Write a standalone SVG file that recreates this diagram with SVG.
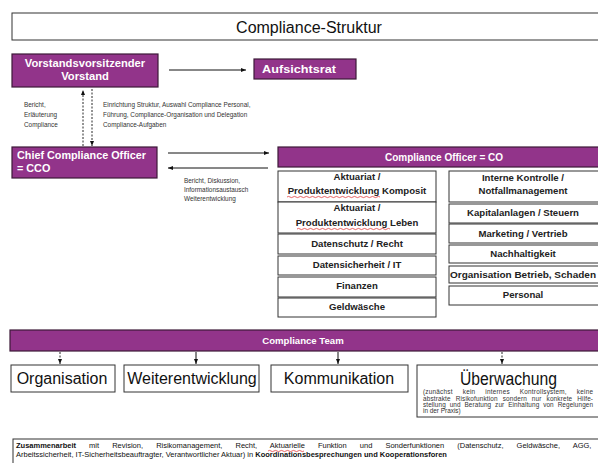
<svg xmlns="http://www.w3.org/2000/svg" width="598" height="463" viewBox="0 0 598 463">
<defs>
<marker id="ah" viewBox="0 0 10 10" refX="10" refY="5" markerWidth="5" markerHeight="5" orient="auto" markerUnits="userSpaceOnUse">
<path d="M0,1 L10,5 L0,9 z" fill="#111"/>
</marker>
<style>
text{font-family:"Liberation Sans",Arial,sans-serif;fill:#111}
.p{fill:#92348a;stroke:#3c1a38;stroke-width:1.2}
.pw{fill:#fff;font-weight:bold}
.b{fill:#fff;stroke:#333;stroke-width:1}
.cb{font-size:9.6px;font-weight:bold;text-anchor:middle;fill:#222}
.lab{font-size:6.4px;fill:#333}
.big{font-size:16px;text-anchor:middle}
.ln{stroke:#111;stroke-width:1;fill:none}
.dl{stroke:#111;stroke-width:0.9;fill:none;stroke-dasharray:2 1.5}
.sq{stroke:#d22;stroke-width:0.7;fill:none}
</style>
</defs>
<rect width="598" height="463" fill="#fff"/>

<g id="title">
<rect x="12" y="13" width="590" height="27" class="b"/>
<text x="309" y="33" font-size="16" text-anchor="middle">Compliance-Struktur</text>
</g>

<g id="vorstand">
<rect x="12" y="54" width="146" height="33" class="p"/>
<text x="85" y="67" class="pw" font-size="11.2" text-anchor="middle">Vorstandsvorsitzender</text>
<text x="85" y="80" class="pw" font-size="11.2" text-anchor="middle">Vorstand</text>
</g>

<g id="aufsichtsrat">
<rect x="254" y="59" width="102" height="20" class="p"/>
<text x="299" y="73" class="pw" font-size="11.5" text-anchor="middle" textLength="74" lengthAdjust="spacingAndGlyphs">Aufsichtsrat</text>
</g>

<g id="cco">
<rect x="12" y="147" width="145" height="31" class="p"/>
<text x="17" y="159" class="pw" font-size="10.8">Chief Compliance Officer</text>
<text x="17" y="172" class="pw" font-size="10.8">= CCO</text>
</g>

<g id="co">
<rect x="278" y="147" width="322" height="20" class="p"/>
<text x="444" y="161" class="pw" font-size="10" text-anchor="middle">Compliance Officer = CO</text>
</g>

<g id="co-left">
<g id="aktuariat-komposit"><rect x="278" y="171" width="158" height="31" class="b"/>
<text x="357" y="180" class="cb">Aktuariat /</text>
<text x="357" y="194" class="cb">Produktentwicklung Komposit</text>
<path class="sq" d="M287,197 q1.5,-1.2 3,0 t3,0 t3,0 t3,0 t3,0 t3,0 t3,0 t3,0 t3,0 t3,0 t3,0 t3,0 t3,0 t3,0 t3,0 t3,0 t3,0 t3,0 t3,0 t3,0 t3,0 t3,0 t3,0 t3,0 t3,0 t3,0 t3,0 t3,0 t3,0 t3,0 t3,0"/></g>
<g id="aktuariat-leben"><rect x="278" y="202" width="158" height="31" class="b"/>
<text x="357" y="211" class="cb">Aktuariat /</text>
<text x="357" y="226" class="cb">Produktentwicklung Leben</text>
<path class="sq" d="M297,229 q1.5,-1.2 3,0 t3,0 t3,0 t3,0 t3,0 t3,0 t3,0 t3,0 t3,0 t3,0 t3,0 t3,0 t3,0 t3,0 t3,0 t3,0 t3,0 t3,0 t3,0 t3,0 t3,0 t3,0 t3,0 t3,0 t3,0 t3,0 t3,0 t3,0 t3,0 t3,0 t3,0"/></g>
<g id="datenschutz"><rect x="278" y="234" width="158" height="20" class="b"/>
<text x="357" y="247" class="cb">Datenschutz / Recht</text></g>
<g id="datensicherheit"><rect x="278" y="256" width="158" height="19" class="b"/>
<text x="357" y="268" class="cb">Datensicherheit / IT</text></g>
<g id="finanzen"><rect x="278" y="277" width="158" height="20" class="b"/>
<text x="357" y="289" class="cb">Finanzen</text></g>
<g id="geldwaesche"><rect x="278" y="298" width="158" height="19" class="b"/>
<text x="357" y="310" class="cb">Geldwäsche</text></g>
</g>

<g id="co-right">
<g id="interne-kontrolle"><rect x="449" y="171" width="151" height="31" class="b"/>
<text x="523" y="181" class="cb">Interne Kontrolle /</text>
<text x="523" y="194" class="cb">Notfallmanagement</text></g>
<g id="kapitalanlagen"><rect x="449" y="204" width="151" height="19" class="b"/>
<text x="523" y="216" class="cb">Kapitalanlagen / Steuern</text></g>
<g id="marketing"><rect x="449" y="224" width="151" height="19" class="b"/>
<text x="523" y="237" class="cb">Marketing / Vertrieb</text></g>
<g id="nachhaltigkeit"><rect x="449" y="245" width="151" height="18" class="b"/>
<text x="523" y="257" class="cb">Nachhaltigkeit</text></g>
<g id="organisation-betrieb"><rect x="449" y="266" width="151" height="17" class="b"/>
<text x="523" y="278" class="cb" textLength="146" lengthAdjust="spacingAndGlyphs">Organisation Betrieb, Schaden</text></g>
<g id="personal"><rect x="449" y="286" width="151" height="19" class="b"/>
<text x="523" y="298" class="cb">Personal</text></g>
</g>

<g id="team">
<rect x="10" y="330" width="592" height="21" class="p"/>
<text x="303" y="344" class="pw" font-size="9.6" text-anchor="middle">Compliance Team</text>
</g>

<g id="organisation"><rect x="11" y="365" width="104" height="27" class="b"/>
<text x="62" y="384" class="big">Organisation</text></g>
<g id="weiterentwicklung"><rect x="124" y="365" width="135" height="27" class="b"/>
<text x="192" y="384" class="big">Weiterentwicklung</text></g>
<g id="kommunikation"><rect x="271" y="365" width="137" height="27" class="b"/>
<text x="339" y="384" class="big">Kommunikation</text></g>
<g id="ueberwachung"><rect x="417" y="365" width="185" height="52" class="b"/>
<text x="508.5" y="385" font-size="18" text-anchor="middle" textLength="97" lengthAdjust="spacingAndGlyphs">Überwachung</text>
<text class="lab" font-size="5.6" y="394" x="423" word-spacing="8" textLength="170" lengthAdjust="spacing">(zunächst kein internes Kontrollsystem, keine</text>
<text class="lab" font-size="5.6" y="400.5" x="423" word-spacing="3" textLength="170" lengthAdjust="spacing">abstrakte Risikofunktion sondern nur konkrete Hilfe-</text>
<text class="lab" font-size="5.6" y="407" x="423" word-spacing="2" textLength="170" lengthAdjust="spacing">stellung und Beratung zur Einhaltung von Regelungen</text>
<text class="lab" font-size="5.6" y="413" x="423">in der Praxis)</text>
</g>

<g id="zusammenarbeit">
<rect x="13" y="439" width="592" height="30" class="b"/>
<text font-size="7.5" y="448" x="16" word-spacing="11" fill="#222"><tspan font-weight="bold">Zusammenarbeit</tspan> mit Revision, Risikomanagement, Recht, Aktuarielle Funktion und Sonderfunktionen (Datenschutz, Geldwäsche, AGG,</text>
<text font-size="7.5" y="456.5" x="16" fill="#222">Arbeitssicherheit, IT-Sicherheitsbeauftragter, Verantwortlicher Aktuar) in <tspan font-weight="bold">Koordinationsbesprechungen und Kooperationsforen</tspan></text>
<path class="sq" d="M268,451 q1.5,-1.2 3,0 t3,0 t3,0 t3,0 t3,0 t3,0 t3,0 t3,0 t3,0 t3,0 t3,0 t3,0"/>
</g>

<g id="labels">
<text class="lab" x="24" y="107">Bericht,</text>
<text class="lab" x="24" y="117">Erläuterung</text>
<text class="lab" x="24" y="127">Compliance</text>
<text class="lab" x="103" y="107">Einrichtung Struktur, Auswahl Compliance Personal,</text>
<text class="lab" x="103" y="117">Führung, Compliance-Organisation und Delegation</text>
<text class="lab" x="103" y="127">Compliance-Aufgaben</text>
<text class="lab" x="184" y="183">Bericht, Diskussion,</text>
<text class="lab" x="184" y="192">Informationsaustausch</text>
<text class="lab" x="184" y="201">Weiterentwicklung</text>
</g>

<g id="connectors">
<line x1="169" y1="70" x2="246" y2="70" class="ln" marker-end="url(#ah)"/>
<line x1="83" y1="146" x2="83" y2="90" class="dl" marker-end="url(#ah)"/>
<line x1="92" y1="89" x2="92" y2="146" class="dl" marker-end="url(#ah)"/>
<line x1="168" y1="153" x2="269" y2="153" class="ln" marker-end="url(#ah)"/>
<line x1="268" y1="168" x2="168" y2="168" class="ln" marker-end="url(#ah)"/>
<line x1="60" y1="352" x2="60" y2="364" class="dl" marker-end="url(#ah)"/>
<line x1="196" y1="352" x2="196" y2="364" class="ln" marker-end="url(#ah)"/>
<line x1="338" y1="352" x2="338" y2="364" class="ln" marker-end="url(#ah)"/>
<line x1="502" y1="352" x2="502" y2="364" class="dl" marker-end="url(#ah)"/>
</g>
</svg>
